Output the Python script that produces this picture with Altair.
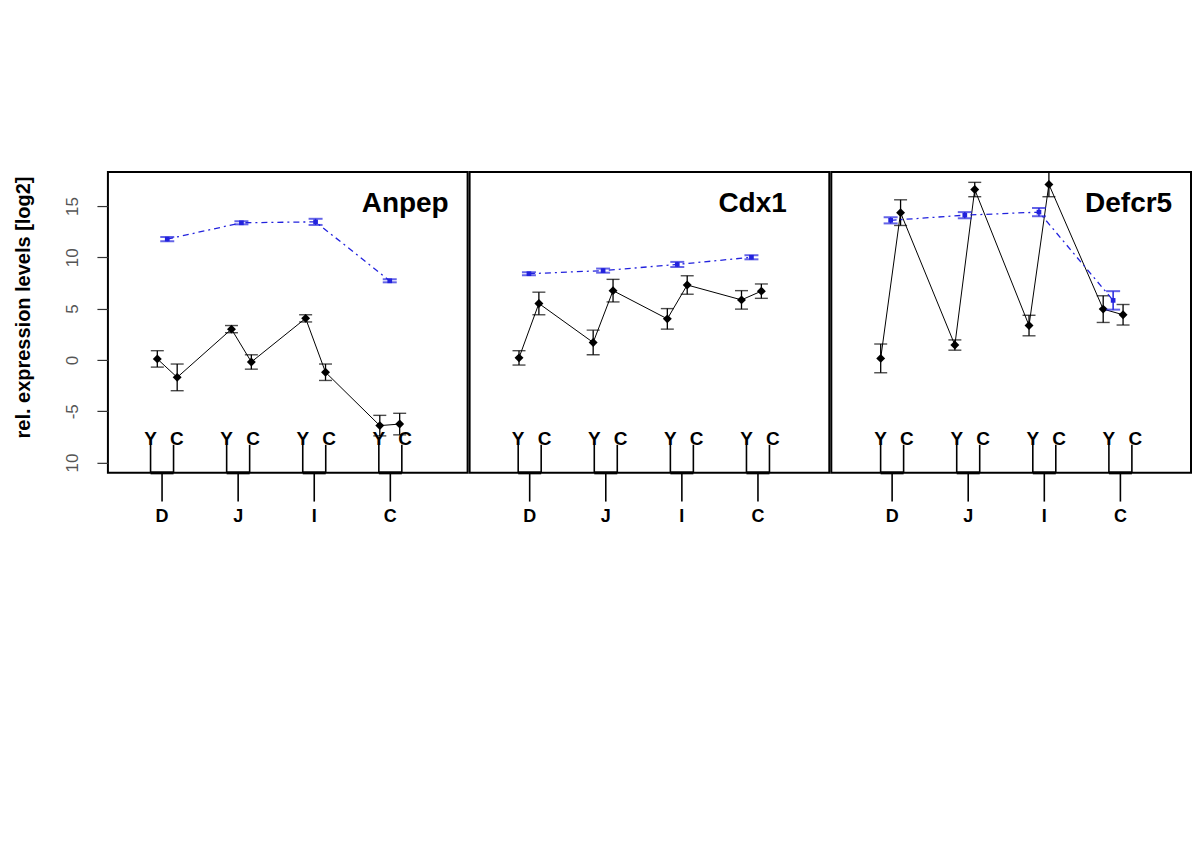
import altair as alt
import pandas as pd

# ---------------- data ----------------
genes = ["Anpep", "Cdx1", "Defcr5"]
groups = ["D", "J", "I", "C"]
conditions = ["Y", "C"]

# black series: order D-Y, D-C, J-Y, J-C, I-Y, I-C, C-Y, C-C
anpep_vals = [0.1, -1.7, 3.0, -0.2, 4.05, -1.2, -6.4, -6.25]
anpep_errs = [0.8, 1.3, 0.35, 0.7, 0.35, 0.8, 1.0, 1.05]
cdx1_vals = [0.2, 5.5, 1.7, 6.75, 4.0, 7.3, 5.85, 6.7]
cdx1_errs = [0.7, 1.1, 1.2, 1.1, 1.0, 0.9, 0.9, 0.7]
defcr5_vals = [0.15, 14.35, 1.45, 16.6, 3.35, 17.1, 4.95, 4.4]
defcr5_errs = [1.4, 1.25, 0.5, 0.7, 1.0, 1.2, 1.3, 1.0]

# blue series: one value per group D, J, I, C
anpep_blue = [11.77, 13.36, 13.45, 7.71]
anpep_blue_err = [0.2, 0.15, 0.3, 0.15]
cdx1_blue = [8.4, 8.7, 9.3, 10.0]
cdx1_blue_err = [0.15, 0.2, 0.25, 0.2]
defcr5_blue = [13.6, 14.1, 14.4, 5.8]
defcr5_blue_err = [0.3, 0.3, 0.4, 0.9]

y_ticks = [15, 10, 5, 0, -5, -10]

# ---------------- layout constants ----------------
Y_DOMAIN = [-11.0, 18.3]
X_DOMAIN = [-0.8, 4.05]
COND_OFFSET = 0.134
STEM_HALF = 0.155
STEM_SPACING = 1.026
STEM_SHIFT = {"Anpep": -0.07, "Cdx1": 0.01, "Defcr5": 0.02}
TITLE_X = {"Anpep": 254, "Cdx1": 249, "Defcr5": 254}
STEM_TOP, BASE, STEM_BOTTOM, LABEL_Y = -8.27, -11.0, -13.8, -15.8
FONT = "Liberation Sans"
BLUE = "#2222dd"

series = {
    "Anpep": (anpep_vals, anpep_errs, anpep_blue, anpep_blue_err),
    "Cdx1": (cdx1_vals, cdx1_errs, cdx1_blue, cdx1_blue_err),
    "Defcr5": (defcr5_vals, defcr5_errs, defcr5_blue, defcr5_blue_err),
}

xs = alt.Scale(domain=X_DOMAIN, nice=False, zero=False)
ys = alt.Scale(domain=Y_DOMAIN, nice=False, zero=False)


def panel(gene, show_axis):
    vals, errs, bvals, berrs = series[gene]
    if show_axis:
        ax = alt.Axis(values=y_ticks, grid=False, domain=False, tickSize=11,
                      tickColor="#333", tickWidth=1.2,
                      labelExpr="datum.value == -10 ? '10' : replace(datum.label, '\u2212', '-')",
                      labelAngle=270, labelAlign="center", labelBaseline="bottom",
                      labelPadding=15, labelFont=FONT, labelFontSize=17,
                      labelColor="#555", title="rel. expression levels [log2]",
                      titleFont=FONT, titleFontSize=20, titleFontWeight="bold",
                      titleColor="black", titlePadding=30, titleY=135)
    else:
        ax = None

    def Y(field):
        return alt.Y(field, type="quantitative", scale=ys, axis=ax)

    def X(field):
        return alt.X(field, type="quantitative", scale=xs, axis=None)

    rows = []
    for gi, g in enumerate(groups):
        for ci, c in enumerate(conditions):
            k = gi * 2 + ci
            rows.append({"order": k, "grp": g, "cond": c,
                         "x": gi + (-COND_OFFSET if c == "Y" else COND_OFFSET),
                         "val": vals[k], "lo": vals[k] - errs[k],
                         "hi": vals[k] + errs[k]})
    bdf = pd.DataFrame(rows)
    brows = [{"order": gi, "x": gi, "val": bvals[gi],
              "lo": bvals[gi] - berrs[gi], "hi": bvals[gi] + berrs[gi]}
             for gi in range(len(groups))]
    udf = pd.DataFrame(brows)

    # dendrogram-like group labels
    stems, bars, centers, letters, glabels = [], [], [], [], []
    for gi, g in enumerate(groups):
        c0 = gi * STEM_SPACING + STEM_SHIFT[gene]
        for c, sgn in (("Y", -1), ("C", 1)):
            sx = c0 + sgn * STEM_HALF
            stems.append({"x": sx, "y": STEM_TOP, "y2": BASE})
            letters.append({"x": sx + (0.045 if c == "C" else 0), "y": STEM_TOP, "t": c})
        bars.append({"x": c0 - STEM_HALF, "x2": c0 + STEM_HALF, "y": BASE})
        centers.append({"x": c0, "y": BASE, "y2": STEM_BOTTOM})
        glabels.append({"x": c0, "y": LABEL_Y, "t": g})

    black_line = alt.Chart(bdf).mark_line(color="black", strokeWidth=1).encode(
        x=X("x"), y=Y("val"), order="order:Q")
    black_err = alt.Chart(bdf).mark_rule(color="black", strokeWidth=1.3).encode(
        x=X("x"), y=Y("lo"), y2="hi")
    black_cap_lo = alt.Chart(bdf).mark_tick(color="black", orient="horizontal",
                                            size=13, thickness=1.4).encode(
        x=X("x"), y=Y("lo"))
    black_cap_hi = alt.Chart(bdf).mark_tick(color="black", orient="horizontal",
                                            size=13, thickness=1.4).encode(
        x=X("x"), y=Y("hi"))
    black_pts = alt.Chart(bdf).mark_point(shape="diamond", filled=True, size=80,
                                          color="black", opacity=1).encode(
        x=X("x"), y=Y("val"))

    blue_line = alt.Chart(udf).mark_line(color=BLUE, strokeWidth=1.3,
                                         strokeDash=[6, 4, 2, 4]).encode(
        x=X("x"), y=Y("val"), order="order:Q")
    blue_err = alt.Chart(udf).mark_rule(color=BLUE, strokeWidth=1.5).encode(
        x=X("x"), y=Y("lo"), y2="hi")
    blue_cap_lo = alt.Chart(udf).mark_tick(color=BLUE, orient="horizontal",
                                           size=14, thickness=2).encode(
        x=X("x"), y=Y("lo"))
    blue_cap_hi = alt.Chart(udf).mark_tick(color=BLUE, orient="horizontal",
                                           size=14, thickness=2).encode(
        x=X("x"), y=Y("hi"))
    blue_pts = alt.Chart(udf).mark_point(shape="square", filled=True, size=22,
                                         color=BLUE, opacity=1).encode(
        x=X("x"), y=Y("val"))

    stem_l = alt.Chart(pd.DataFrame(stems)).mark_rule(color="black", strokeWidth=1.6).encode(
        x=X("x"), y=Y("y"), y2="y2")
    bar_l = alt.Chart(pd.DataFrame(bars)).mark_rule(color="black", strokeWidth=3).encode(
        x=X("x"), x2="x2", y=Y("y"))
    center_l = alt.Chart(pd.DataFrame(centers)).mark_rule(color="black", strokeWidth=1.6).encode(
        x=X("x"), y=Y("y"), y2="y2")
    letter_l = alt.Chart(pd.DataFrame(letters)).mark_text(
        font=FONT, fontSize=19, fontWeight="bold", baseline="alphabetic",
        align="center", color="black").encode(x=X("x"), y=Y("y"), text="t:N")
    glabel_l = alt.Chart(pd.DataFrame(glabels)).mark_text(
        font=FONT, fontSize=18, fontWeight="bold", baseline="alphabetic",
        align="center", color="black").encode(x=X("x"), y=Y("y"), text="t:N")

    title_l = alt.Chart(pd.DataFrame({"t": [gene]})).mark_text(
        font=FONT, fontSize=28, fontWeight="bold", baseline="alphabetic",
        align="left", color="black").encode(
        x=alt.value(TITLE_X[gene]), y=alt.value(40), text="t:N")

    return alt.layer(
        black_line, black_err, black_cap_lo, black_cap_hi, black_pts,
        blue_line, blue_err, blue_cap_lo, blue_cap_hi, blue_pts,
        stem_l, bar_l, center_l, letter_l, glabel_l, title_l,
    ).properties(width=360, height=301)


chart = alt.hconcat(
    panel("Anpep", True), panel("Cdx1", False), panel("Defcr5", False),
    spacing=0,
).properties(
    padding={"left": 4, "top": 162, "right": 0, "bottom": 10},
    background="white",
).configure_view(stroke="black", strokeWidth=2)

chart.save("out.html", embed_options={"renderer": "svg", "actions": False})
